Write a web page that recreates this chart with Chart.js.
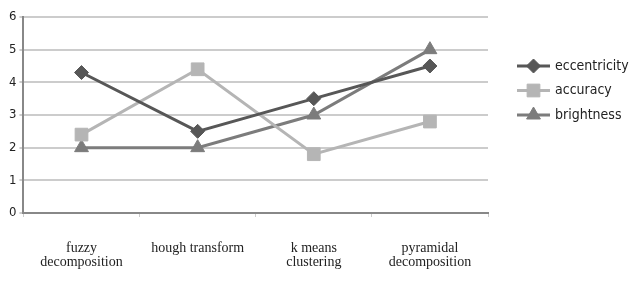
<!DOCTYPE html>
<html>
<head>
<meta charset="utf-8">
<script src="https://cdn.jsdelivr.net/npm/chart.js@4/dist/chart.umd.min.js"></script>
<style>
  html, body { margin: 0; padding: 0; background: #fff; }
</style>
</head>
<body>
<canvas id="grafico" width="632" height="282"></canvas>
<script>
const categorias = [['fuzzy', 'decomposition'], 'hough transform', ['k means', 'clustering'], ['pyramidal', 'decomposition']];
const eccentricity = [4.3, 2.5, 3.5, 4.5];
const accuracy = [2.4, 4.4, 1.8, 2.8];
const brightness = [2, 2, 3, 5];
const yTicks = [0, 1, 2, 3, 4, 5, 6];

const fonteSans = '"DejaVu Sans Condensed", "Liberation Sans", sans-serif';

// legenda desenhada a mao (linha + marcador), como no original
const legendaLinha = {
  id: 'legendaLinha',
  afterDraw(chart) {
    const ctx = chart.ctx;
    const x0 = 517, x1 = 550;
    let y = 66;
    chart.data.datasets.forEach((ds) => {
      ctx.save();
      ctx.strokeStyle = ds.borderColor;
      ctx.fillStyle = ds.backgroundColor;
      ctx.lineWidth = 3;
      ctx.beginPath();
      ctx.moveTo(x0, y);
      ctx.lineTo(x1, y);
      ctx.stroke();
      ctx.lineWidth = 1;
      Chart.helpers.drawPoint(ctx, { pointStyle: ds.pointStyle, radius: ds.pointRadius, borderWidth: 1 }, (x0 + x1) / 2, y);
      ctx.fillStyle = '#222';
      ctx.font = '14px ' + fonteSans;
      ctx.textBaseline = 'middle';
      ctx.fillText(ds.label, 555, y);
      ctx.restore();
      y += 24.5;
    });
  }
};

new Chart(document.getElementById('grafico'), {
  type: 'line',
  data: {
    labels: categorias,
    datasets: [
      { label: 'eccentricity', data: eccentricity, borderColor: '#575757', backgroundColor: '#575757', pointStyle: 'rectRot', pointRadius: 7 },
      { label: 'accuracy', data: accuracy, borderColor: '#b5b5b5', backgroundColor: '#b5b5b5', pointStyle: 'rect', pointRadius: 9 },
      { label: 'brightness', data: brightness, borderColor: '#7c7c7c', backgroundColor: '#7c7c7c', pointStyle: 'triangle', pointRadius: 8 }
    ]
  },
  options: {
    responsive: false,
    animation: false,
    layout: { padding: { left: 6, right: 144, top: 17, bottom: -11 } },
    elements: {
      line: { borderWidth: 3, tension: 0 },
      point: { borderWidth: 1 }
    },
    plugins: { legend: { display: false }, tooltip: { enabled: false } },
    scales: {
      x: {
        offset: true,
        grid: { display: true, drawOnChartArea: false, offset: true, color: '#cccccc', tickLength: 4 },
        border: { color: '#888888', width: 2 },
        ticks: {
          color: '#222',
          font: { family: '"Liberation Serif", serif', size: 14, lineHeight: 1.0 },
          maxRotation: 0,
          autoSkip: false,
          padding: 24
        }
      },
      y: {
        min: 0,
        max: 6,
        afterBuildTicks: (axis) => { axis.ticks = yTicks.map(v => ({ value: v })); },
        grid: { color: '#cccccc', lineWidth: 2, tickLength: 4 },
        border: { color: '#888888', width: 2 },
        ticks: {
          color: '#222',
          autoSkip: false,
          font: { family: fonteSans, size: 13 },
          padding: 3
        }
      }
    }
  },
  plugins: [legendaLinha]
});
</script>
</body>
</html>
